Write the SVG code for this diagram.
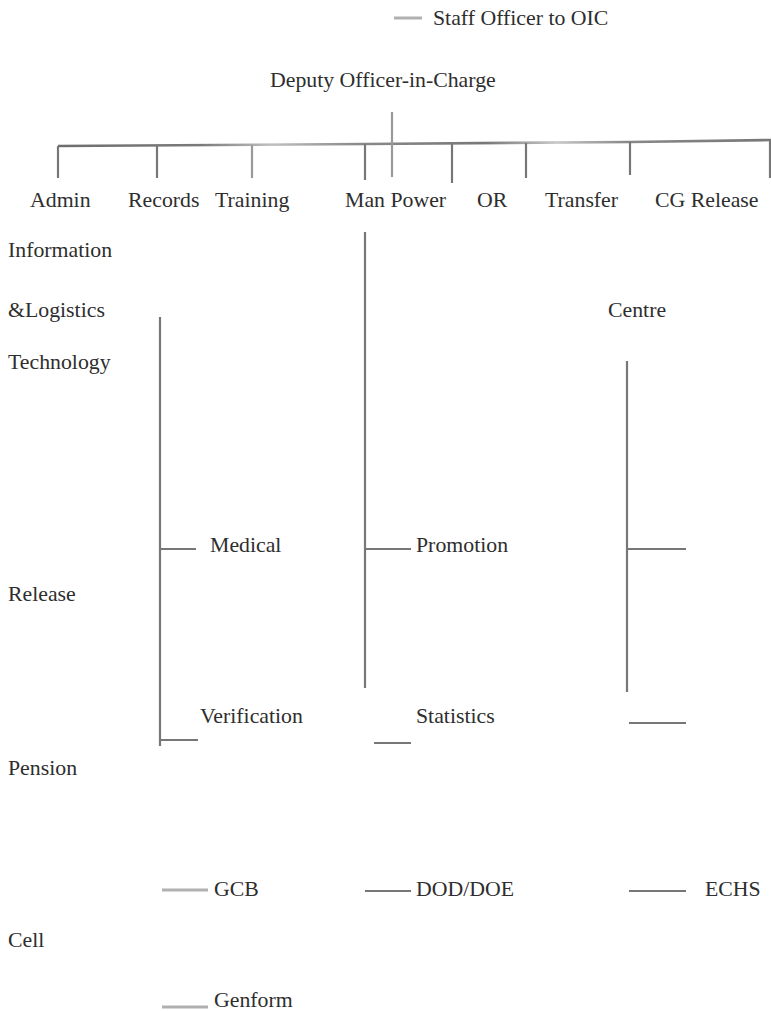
<svg xmlns="http://www.w3.org/2000/svg" width="771" height="1011" viewBox="0 0 771 1011">
<style>
.t{font-family:"Liberation Serif","Times New Roman",serif;font-size:21.8px;fill:#2e2e2e;}
.c{stroke:#777;stroke-width:2.2;fill:none;}
.cl{stroke:#999;stroke-width:2.2;fill:none;}
.l{stroke:#b0b0b0;stroke-width:3;fill:none;}
</style>
<defs>
<linearGradient id="bar" x1="58" y1="0" x2="770" y2="0" gradientUnits="userSpaceOnUse">
<stop offset="0" stop-color="#6e6e6e"/>
<stop offset="0.2" stop-color="#7a7a7a"/>
<stop offset="0.3" stop-color="#c0c0c0"/>
<stop offset="0.42" stop-color="#8a8a8a"/>
<stop offset="0.6" stop-color="#777"/>
<stop offset="0.7" stop-color="#c8c8c8"/>
<stop offset="0.8" stop-color="#888"/>
<stop offset="1" stop-color="#777"/>
</linearGradient>
</defs>
<rect width="771" height="1011" fill="#fff"/>
<g id="connectors">
<line class="l" x1="394" y1="18" x2="422" y2="18"/>
<line class="l" x1="162" y1="890" x2="208" y2="890"/>
<line class="l" x1="162" y1="1007" x2="208" y2="1007"/>
<path d="M58,146 L365,144 L630,142 L771,140" stroke="url(#bar)" stroke-width="2.6" fill="none"/>
<line class="cl" x1="392" y1="112" x2="392" y2="177"/>
<line class="c" x1="58" y1="146" x2="58" y2="178"/>
<line class="c" x1="157" y1="146" x2="157" y2="178"/>
<line class="cl" x1="252" y1="145" x2="252" y2="178"/>
<line class="c" x1="365" y1="144" x2="365" y2="180"/>
<line class="c" x1="452" y1="144" x2="452" y2="183"/>
<line class="c" x1="526" y1="143" x2="526" y2="178"/>
<line class="c" x1="630" y1="142" x2="630" y2="175"/>
<line class="c" x1="770" y1="140" x2="770" y2="178"/>
<line class="c" x1="160" y1="317" x2="160" y2="746"/>
<line class="c" x1="160" y1="549" x2="196" y2="549"/>
<line class="c" x1="160" y1="740" x2="198" y2="740"/>
<line class="c" x1="365" y1="232" x2="365" y2="688"/>
<line class="c" x1="365" y1="549" x2="411" y2="549"/>
<line class="c" x1="374" y1="743" x2="411" y2="743"/>
<line class="c" x1="627" y1="361" x2="627" y2="692"/>
<line class="c" x1="627" y1="549" x2="686" y2="549"/>
<line class="c" x1="629" y1="723" x2="686" y2="723"/>
<line class="c" x1="365" y1="891" x2="411" y2="891"/>
<line class="c" x1="629" y1="891" x2="686" y2="891"/>
</g>
<g id="staff"><text class="t" x="433" y="25">Staff Officer to OIC</text></g>
<g id="deputy"><text class="t" x="270" y="87">Deputy Officer-in-Charge</text></g>
<g id="admin"><text class="t" x="30" y="207">Admin</text></g>
<g id="records"><text class="t" x="128" y="207">Records</text></g>
<g id="training"><text class="t" x="215" y="207">Training</text></g>
<g id="manpower"><text class="t" x="345" y="207">Man Power</text></g>
<g id="or"><text class="t" x="477" y="207">OR</text></g>
<g id="transfer"><text class="t" x="545" y="207">Transfer</text></g>
<g id="cgrelease"><text class="t" x="655" y="207">CG Release</text></g>
<g id="information"><text class="t" x="8" y="257">Information</text></g>
<g id="logistics"><text class="t" x="8" y="317">&amp;Logistics</text></g>
<g id="technology"><text class="t" x="8" y="369">Technology</text></g>
<g id="centre"><text class="t" x="608" y="317">Centre</text></g>
<g id="medical"><text class="t" x="210" y="552">Medical</text></g>
<g id="promotion"><text class="t" x="416" y="552">Promotion</text></g>
<g id="release"><text class="t" x="8" y="601">Release</text></g>
<g id="verification"><text class="t" x="200" y="723">Verification</text></g>
<g id="statistics"><text class="t" x="416" y="723">Statistics</text></g>
<g id="pension"><text class="t" x="8" y="775">Pension</text></g>
<g id="gcb"><text class="t" x="214" y="896">GCB</text></g>
<g id="dod"><text class="t" x="416" y="896">DOD/DOE</text></g>
<g id="echs"><text class="t" x="705" y="896">ECHS</text></g>
<g id="cell"><text class="t" x="8" y="947">Cell</text></g>
<g id="genform"><text class="t" x="214" y="1007">Genform</text></g>
</svg>
